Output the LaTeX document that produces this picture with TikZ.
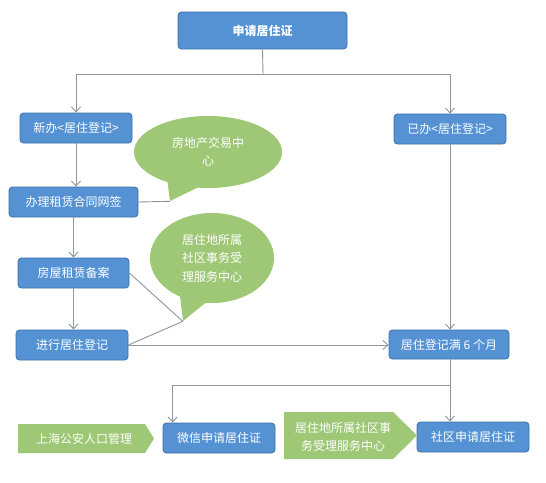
\documentclass[tikz,border=0pt]{standalone}
\usepackage{fontspec}
\setmainfont{Noto Sans CJK SC}
\usetikzlibrary{shapes.callouts,arrows.meta}
\definecolor{boxblue}{RGB}{84,146,212}
\definecolor{boxedge}{RGB}{62,112,168}
\definecolor{bubgreen}{RGB}{158,199,118}
\definecolor{linegray}{RGB}{138,150,163}
\begin{document}
\begin{tikzpicture}[x=1pt,y=-1pt,
  bluebox/.style={draw=boxedge, line width=0.8pt, fill=boxblue, rounded corners=3.5pt, text=white,
    font=\fontsize{12}{14}\selectfont, inner sep=0pt, minimum width=112pt, minimum height=30pt},
  bubble/.style={ellipse callout, fill=bubgreen, text=white, font=\fontsize{12}{18.5}\selectfont,
    align=center, inner sep=0pt, callout pointer arc=25},
  gtext/.style={text=white, font=\fontsize{12}{18}\selectfont, align=center, inner sep=0pt},
  conn/.style={draw=linegray, line width=0.9pt},
  arr/.style={conn, -{Straight Barb[length=5pt,width=9pt]}},
]
\useasboundingbox (0,0) rectangle (546,482);
\fill[white] (0,0) rectangle (546,482);

% blue boxes
\node[bluebox, minimum width=169pt, minimum height=37pt, font=\fontsize{12}{14}\selectfont\bfseries] (top) at (262.5,30.5) {申请居住证};
\node[bluebox] (xb) at (76,128) {新办<居住登记>};
\node[bluebox] (yb) at (450,129) {已办<居住登记>};
\node[bluebox, minimum width=129pt] (ban) at (73.5,202) {办理租赁合同网签};
\node[bluebox, minimum width=111pt] (fang) at (73.5,273) {房屋租赁备案};
\node[bluebox] (jin) at (72,345) {进行居住登记};
\node[bluebox, minimum width=120pt, minimum height=29pt] (man) at (449,344.5) {居住登记满 6 个月};
\node[bluebox] (wx) at (219,438) {微信申请居住证};
\node[bluebox] (sq) at (473,437) {社区申请居住证};

% callouts
\node[bubble, minimum width=148pt, minimum height=72pt, callout absolute pointer={(170,201)}] (c1) at (208,152) {房地产交易中\\心};
\node[bubble, minimum width=124pt, minimum height=90pt, callout absolute pointer={(183,321)}] (c2) at (212,258) {居住地所属\\社区事务受\\理服务中心};

% green arrow labels
\fill[bubgreen] (18,424) -- (145,424) -- (154,438.5) -- (145,453) -- (18,453) -- cycle;
\node[gtext] (g1) at (84,438.5) {上海公安人口管理};
\fill[bubgreen] (284,412) -- (393,412) -- (417,435.5) -- (393,459) -- (284,459) -- cycle;
\node[gtext] (g2) at (343,437) {居住地所属社区事\\务受理服务中心};

% connectors
\coordinate (split) at (263,74);
\draw[conn] (top.south) -- (split);
\draw[arr] (split) -| (xb.north);
\draw[arr] (split) -| (yb.north);
\draw[arr] (xb.south) -- (xb.south |- ban.north);
\draw[arr] (ban.south) -- (fang.north);
\draw[arr] (fang.south) -- (fang.south |- jin.north);
\draw[conn] (ban.east) -- (c1.pointer);
\draw[conn] (fang.east) -- (c2.pointer);
\draw[conn] (jin.east) -- (c2.pointer);
\draw[arr] (jin.east) -- (jin.east -| man.west);
\draw[arr] (yb.south) -- (yb.south |- man.north);
\coordinate (split2) at (450,385);
\draw[conn] (man.south -| split2) -- (split2);
\draw[arr] (split2) -- (split2 |- sq.north);
\draw[arr] (split2) -| ([xshift=10pt]wx.north west);
\end{tikzpicture}
\end{document}
